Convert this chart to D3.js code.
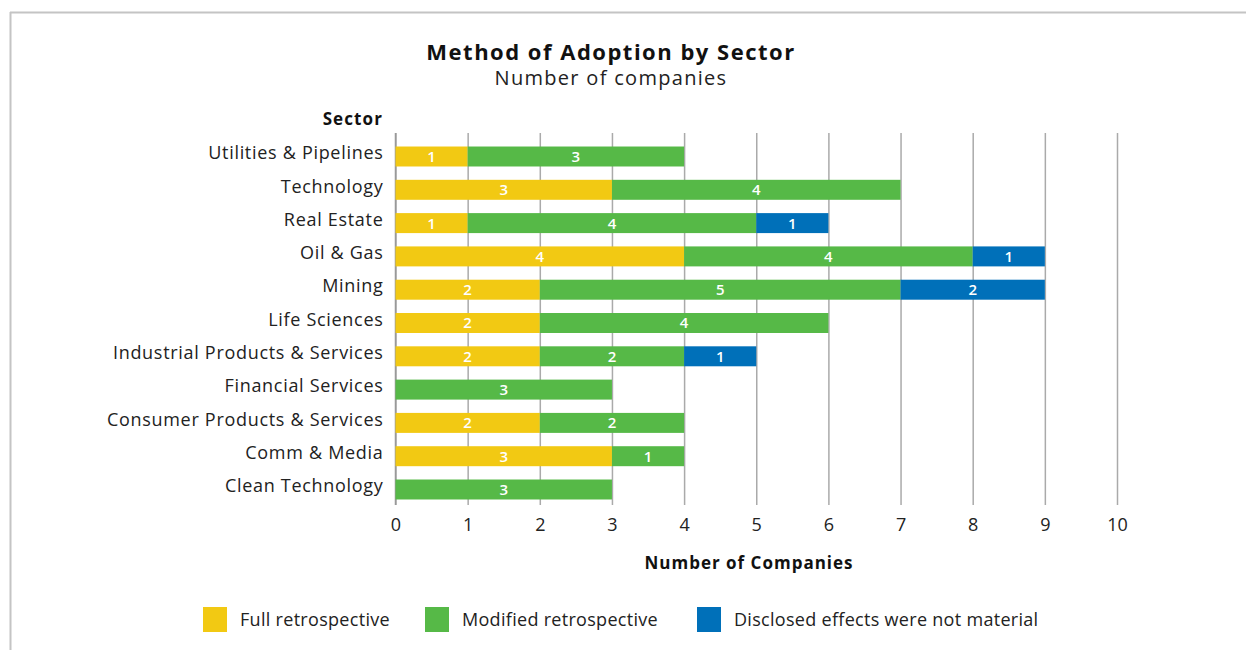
<!DOCTYPE html>
<html>
<head>
<meta charset="utf-8">
<script src="https://cdn.jsdelivr.net/npm/d3@7"></script>
<style>
  html, body { margin: 0; padding: 0; background: #fff; }
  svg { display: block; font-family: "Open Sans", "Noto Sans", sans-serif; }
</style>
</head>
<body>
<svg id="chart" width="1246" height="650"></svg>
<script>
// Sectors, top to bottom
const sectors = [
  "Utilities & Pipelines",
  "Technology",
  "Real Estate",
  "Oil & Gas",
  "Mining",
  "Life Sciences",
  "Industrial Products & Services",
  "Financial Services",
  "Consumer Products & Services",
  "Comm & Media",
  "Clean Technology"
];

// Companies per adoption method, in sector order
const fullRetrospective     = [1, 3, 1, 4, 2, 2, 2, 0, 2, 3, 0];
const modifiedRetrospective = [3, 4, 4, 4, 5, 4, 2, 3, 2, 1, 3];
const notMaterial           = [0, 0, 1, 1, 2, 0, 1, 0, 0, 0, 0];

const seriesNames = ["Full retrospective", "Modified retrospective", "Disclosed effects were not material"];
const seriesColors = ["#f2c913", "#56b947", "#0070b9"];
const xTicks = [0, 1, 2, 3, 4, 5, 6, 7, 8, 9, 10];

const rows = sectors.map((s, i) => ({
  sector: s,
  full: fullRetrospective[i],
  modified: modifiedRetrospective[i],
  notMaterial: notMaterial[i]
}));
const keys = ["full", "modified", "notMaterial"];

const svg = d3.select("#chart");

// Frame lines along top and left
svg.append("line").attr("x1", 10).attr("x2", 1246).attr("y1", 12.5).attr("y2", 12.5)
  .attr("stroke", "#c4c4c4").attr("stroke-width", 2);
svg.append("line").attr("x1", 10.5).attr("x2", 10.5).attr("y1", 12).attr("y2", 650)
  .attr("stroke", "#c4c4c4").attr("stroke-width", 2);

const x = d3.scaleLinear().domain([0, 10]).range([395.5, 1117]);
const y = d3.scaleBand().domain(sectors).range([139.85, 506.15])
  .paddingInner(0.4).paddingOuter(0.2);

const gridTop = 133, gridBottom = 505;

// Vertical gridlines and tick labels
const xAxis = d3.axisBottom(x).tickValues(xTicks).tickSize(gridBottom - gridTop).tickFormat(d3.format("d"));
const gx = svg.append("g").attr("transform", `translate(0,${gridTop})`).call(xAxis);
gx.select(".domain").remove();
gx.selectAll(".tick line").attr("stroke", "#aaaaaa").attr("stroke-width", 1.5);
gx.selectAll(".tick text")
  .attr("y", gridBottom - gridTop + 26)
  .attr("dy", 0)
  .attr("font-size", 18)
  .attr("fill", "#222")
  .attr("font-family", "'Open Sans', sans-serif");

// Category axis
const yAxis = d3.axisLeft(y).tickSize(0).tickPadding(12);
const gy = svg.append("g").attr("transform", `translate(${x(0)},0)`).call(yAxis);
gy.select(".domain").remove();
gy.selectAll(".tick text").attr("font-size", 18).attr("fill", "#222")
  .attr("letter-spacing", 0.7)
  .attr("font-family", "'Open Sans', sans-serif").attr("dy", "0.15em");
svg.append("line").attr("x1", x(0)).attr("x2", x(0)).attr("y1", gridTop).attr("y2", gridBottom)
  .attr("stroke", "#999").attr("stroke-width", 1.5);

// Stacked bars
const stacked = d3.stack().keys(keys)(rows);
const layers = svg.append("g").selectAll("g").data(stacked).join("g")
  .attr("fill", (d, i) => seriesColors[i]);
layers.selectAll("rect").data(d => d.filter(p => p[1] - p[0] > 0)).join("rect")
  .attr("x", d => x(d[0]))
  .attr("width", d => x(d[1]) - x(d[0]))
  .attr("y", d => y(d.data.sector))
  .attr("height", y.bandwidth());

// Segment value labels
const labels = svg.append("g");
stacked.forEach(layer => {
  layer.filter(p => p[1] - p[0] > 0).forEach(p => {
    labels.append("text")
      .attr("x", (x(p[0]) + x(p[1])) / 2)
      .attr("y", y(p.data.sector) + y.bandwidth() / 2)
      .attr("dy", "0.36em")
      .attr("text-anchor", "middle")
      .attr("fill", "#fff")
      .attr("font-size", 15)
      .attr("font-weight", 600)
      .text(p[1] - p[0]);
  });
});

// Titles
svg.append("text").attr("x", 611).attr("y", 60).attr("text-anchor", "middle")
  .attr("font-size", 22).attr("font-weight", "bold").attr("fill", "#111")
  .attr("letter-spacing", 1.5)
  .text("Method of Adoption by Sector");
svg.append("text").attr("x", 611).attr("y", 85).attr("text-anchor", "middle")
  .attr("font-size", 20).attr("fill", "#222").attr("letter-spacing", 1.3)
  .text("Number of companies");
svg.append("text").attr("x", 383).attr("y", 125).attr("text-anchor", "end")
  .attr("font-size", 17).attr("font-weight", "bold").attr("fill", "#111")
  .attr("letter-spacing", 1.1)
  .text("Sector");
svg.append("text").attr("x", 749).attr("y", 569).attr("text-anchor", "middle")
  .attr("font-size", 17).attr("font-weight", "bold").attr("fill", "#111")
  .attr("letter-spacing", 1.0)
  .text("Number of Companies");

// Legend
const legendX = [203, 425, 697];
const legend = svg.append("g").selectAll("g").data(seriesNames).join("g")
  .attr("transform", (d, i) => `translate(${legendX[i]},607)`);
legend.append("rect").attr("width", 24).attr("height", 25)
  .attr("fill", (d, i) => seriesColors[i]);
legend.append("text").attr("x", 37).attr("y", 12.5).attr("dy", "0.35em")
  .attr("font-size", 18).attr("fill", "#222").attr("letter-spacing", 0.3)
  .text(d => d);
</script>
</body>
</html>
